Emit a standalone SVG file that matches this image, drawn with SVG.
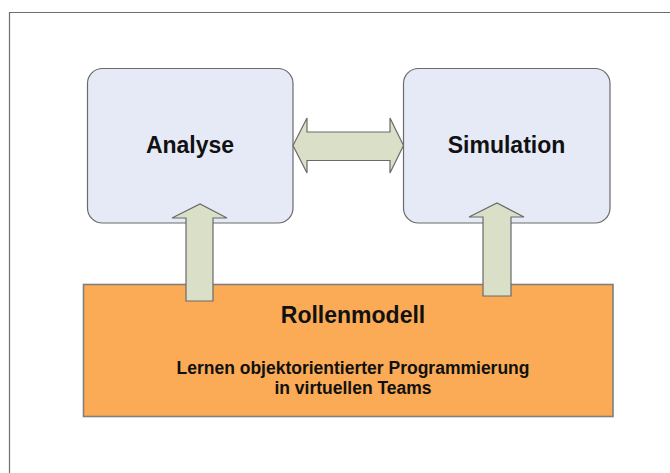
<svg xmlns="http://www.w3.org/2000/svg" width="670" height="473" viewBox="0 0 670 473">
  <style>
    .frame { fill: none; stroke: #6e6e6e; stroke-width: 1.2; }
    .box { fill: #E6EAF6; stroke: #6a6a6a; stroke-width: 1.2; }
    .base { fill: #FBAB55; stroke: #7f7f7f; stroke-width: 1.6; }
    .arrow { fill: #DADFC8; stroke: #6a6a6a; stroke-width: 1.2; stroke-linejoin: miter; }
    .title { font-family: "Liberation Sans", Arial, sans-serif; font-weight: bold; font-size: 23px; fill: #111; text-anchor: middle; }
    .sub { font-family: "Liberation Sans", Arial, sans-serif; font-weight: bold; font-size: 17.5px; fill: #111; text-anchor: middle; }
  </style>
  <rect width="670" height="473" fill="#ffffff"/>
  <path class="frame" d="M9.5,473 V12.5 H670"/>

  <g id="rollenmodell">
    <rect class="base" x="83.5" y="284.5" width="529.5" height="132"/>
    <text class="title" x="353" y="323">Rollenmodell</text>
    <text class="sub" x="353" y="374">Lernen objektorientierter Programmierung</text>
    <text class="sub" x="353" y="393.5">in virtuellen Teams</text>
  </g>

  <g id="analyse">
    <rect class="box" x="87.5" y="68.5" width="205.5" height="154.5" rx="15" ry="15"/>
    <text class="title" x="190" y="153">Analyse</text>
  </g>

  <g id="simulation">
    <rect class="box" x="403.5" y="68.5" width="206.5" height="154.5" rx="15" ry="15"/>
    <text class="title" x="506.5" y="153">Simulation</text>
  </g>

  <g id="connectors">
    <!-- two-way arrow between Analyse and Simulation -->
    <path class="arrow" d="M293,145.5 L307,118 V132 H390 V118 L403.5,145.5 L390,173 V160.5 H307 V173 Z"/>
    <!-- Rollenmodell feeds Analyse -->
    <path class="arrow" d="M186,301 V218 H172 L200,204 L227,218 H213 V301 Z"/>
    <!-- Rollenmodell feeds Simulation -->
    <path class="arrow" d="M483,296 V217 H469 L497,203 L524,217 H511 V296 Z"/>
  </g>
</svg>
